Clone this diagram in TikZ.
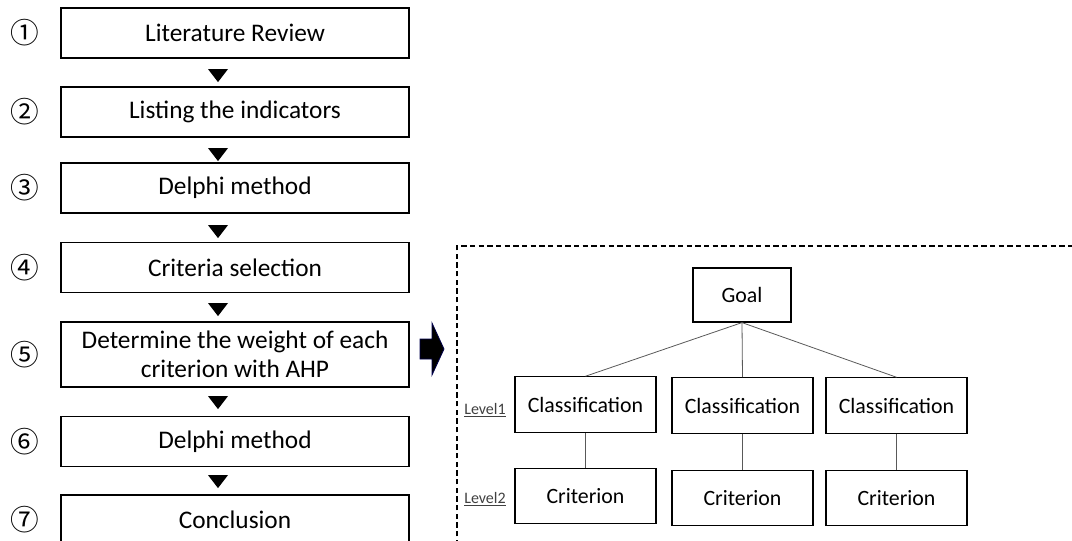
\documentclass[tikz,border=0pt]{standalone}
\usepackage{fontspec}
\setmainfont{Carlito}
\newfontfamily\cjk{Noto Sans CJK JP}
\usetikzlibrary{shapes.geometric}

\begin{document}
\begin{tikzpicture}[x=0.75pt,y=-0.75pt]

\tikzstyle stepbox=[draw, line width=0.9pt, minimum width=261pt, minimum height=37.5pt, inner sep=0pt, font=\fontsize{19}{21.5}\selectfont]
\tikzstyle num=[font=\cjk\fontsize{21.5}{23}\selectfont, inner sep=0pt]
\tikzstyle tri=[fill=black, isosceles triangle, isosceles triangle apex angle=75, shape border rotate=-90, minimum width=20*0.75pt, minimum height=13*0.75pt, inner sep=0pt]
\tikzstyle ahpbox=[draw, line width=0.9pt, minimum width=105.75pt, minimum height=41.5pt, inner sep=0pt, font=\fontsize{16.4}{19}\selectfont]
\tikzstyle level=[font=\fontsize{12}{13}\selectfont, text=black!75, inner sep=0pt]
\tikzstyle link=[draw=black!65, line width=0.6pt]

\clip (0,0) rectangle (1072,540);
\useasboundingbox (0,0) rectangle (1072,540);

% process steps
\node (s1) [stepbox] at (235,33) {Literature Review};
\node (s2) [stepbox] at (235,112) {Listing the indicators};
\node (s3) [stepbox] at (235,188) {Delphi method};
\node (s4) [stepbox] at (235,267.5) {Criteria selection};
\node (s5) [stepbox, minimum height=48.75pt, align=center] at (235,354.5) {Determine the weight of each\\criterion with AHP};
\node (s6) [stepbox] at (235,441.5) {Delphi method};
\node (s7) [stepbox] at (235,520) {Conclusion};

\node (n1) [num] at (25,33) {①};
\node (n2) [num] at (25,112) {②};
\node (n3) [num] at (25,188) {③};
\node (n4) [num] at (25,267.5) {④};
\node (n5) [num] at (25,354.5) {⑤};
\node (n6) [num] at (25,441.5) {⑥};
\node (n7) [num] at (25,520) {⑦};

\node (t1) [tri] at (218,74) {};
\node (t2) [tri] at (218,153) {};
\node (t3) [tri] at (218,230) {};
\node (t4) [tri] at (218,308) {};
\node (t5) [tri] at (218,401) {};
\node (t6) [tri] at (218,480) {};

% block arrow
\draw [fill=black, draw=blue!30!black, line width=0.6pt] (420,339) -- (432,339) -- (432,323) -- (444,349) -- (432,375) -- (432,359) -- (420,359) -- cycle;

% AHP hierarchy
\draw [dashed, line width=0.8pt, dash pattern=on 4pt off 2.5pt] (457,545) -- (457,246) -- (1075,246);

\node (goal) [ahpbox, minimum width=73.5pt, minimum height=40.5pt] at (742,295) {Goal};
\node (c1) [ahpbox] at (585.5,404.5) {Classification};
\node (c2) [ahpbox] at (742.5,405.5) {Classification};
\node (c3) [ahpbox] at (896.5,405.5) {Classification};
\node (k1) [ahpbox] at (585.5,496) {Criterion};
\node (k2) [ahpbox] at (742.5,498) {Criterion};
\node (k3) [ahpbox] at (896.5,498) {Criterion};

\node (l1) [level] at (485,410) {\underline{Level1}};
\node (l2) [level] at (485,499) {\underline{Level2}};

\draw [link] (goal.south) -- (c1.north);
\draw [link] (goal.south) -- (c2.north);
\draw [link] (goal.south) -- (c3.north);
\draw [link] (c1) -- (k1);
\draw [link] (c2) -- (k2);
\draw [link] (c3) -- (k3);

\end{tikzpicture}
\end{document}
